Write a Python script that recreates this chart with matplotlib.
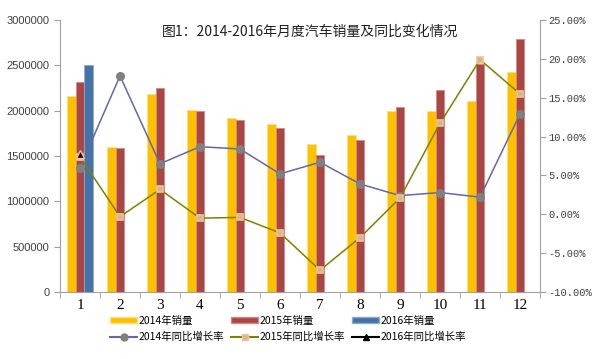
import numpy as np
import matplotlib.pyplot as plt
from matplotlib.ticker import FuncFormatter, FixedLocator
from matplotlib.lines import Line2D
from matplotlib.patches import Patch

plt.rcParams['font.family'] = ['Noto Sans CJK SC', 'DejaVu Sans']

months = ['1', '2', '3', '4', '5', '6', '7', '8', '9', '10', '11', '12']
sales_2014 = [2160000, 1600000, 2180000, 2010000, 1920000, 1850000,
              1630000, 1730000, 2000000, 2000000, 2110000, 2430000]
sales_2015 = [2320000, 1590000, 2250000, 2000000, 1900000, 1810000,
              1510000, 1680000, 2040000, 2230000, 2510000, 2790000]
sales_2016 = [2500000]
growth_2014 = [6.0, 17.8, 6.5, 8.7, 8.4, 5.2, 6.7, 3.9, 2.4, 2.8, 2.2, 12.9]
growth_2015 = [7.4, -0.3, 3.2, -0.5, -0.4, -2.4, -7.2, -3.0, 2.1, 11.7, 19.9, 15.5]
growth_2016 = [7.8]

fig = plt.figure(figsize=(5.93, 3.59), dpi=100)
ax = fig.add_axes([60 / 593, 1 - 292 / 359, 480 / 593, 272 / 359])
ax2 = ax.twinx()

x = np.arange(len(months))
w = 0.22
c14, c15, c16 = '#FFC000', '#AA4643', '#4572A7'
ax.bar(x - w, sales_2014, w, color=c14, edgecolor='#FFE080', linewidth=0.6)
ax.bar(x, sales_2015, w, color=c15, edgecolor='#D08A88', linewidth=0.6)
ax.bar(x[:1] + w, sales_2016, w, color=c16, edgecolor='#8FAACF', linewidth=0.6)

ax.set_xlim(-0.5, 11.5)
ax.set_ylim(0, 3000000)
ax.set_yticks(np.arange(0, 3000001, 500000))
ax.yaxis.set_major_formatter(FuncFormatter(lambda v, p: f'{int(v)}'))
ax.set_xticks(x)
ax.set_xticklabels(months, family='Liberation Serif', fontsize=11)
ax.xaxis.set_minor_locator(FixedLocator(np.arange(-0.5, 12, 1)))
ax.tick_params(axis='x', which='major', length=0, pad=5)
ax.tick_params(axis='x', which='minor', length=4, color='#A0A0A0', direction='out')
ax.tick_params(axis='y', length=4, color='#A0A0A0', labelsize=8, labelcolor='#404040')
for lab in ax.get_yticklabels():
    lab.set_family('Liberation Sans')

ax2.plot(x, growth_2014, color='#6666A8', linewidth=1.1, marker='o', markersize=5.5,
         markerfacecolor='#808080', markeredgecolor='#808080', zorder=3)
ax2.plot(x, growth_2015, color='#808000', linewidth=1.1, marker='s', markersize=4.5,
         markerfacecolor='#C4BD97', markeredgecolor='#FAC090', markeredgewidth=1.2, zorder=4)
ax2.plot(x[:1], growth_2016, color='black', linewidth=1.1, marker='^', markersize=5.5,
         markerfacecolor='black', markeredgecolor='#FAC090', zorder=5)
ax2.set_ylim(-10, 25)
ax2.set_yticks(np.arange(-10, 26, 5))
ax2.yaxis.set_major_formatter(FuncFormatter(lambda v, p: f'{v:.2f}%'))
ax2.tick_params(axis='y', length=4, color='#A0A0A0', labelsize=7.5, labelcolor='#404040',
                pad=2)
for lab in ax2.get_yticklabels():
    lab.set_family('Liberation Mono')

for a in (ax, ax2):
    a.spines['top'].set_visible(False)
    for s in ('left', 'right', 'bottom'):
        a.spines[s].set_color('#A0A0A0')
ax.spines['right'].set_visible(False)
ax2.spines['left'].set_visible(False)
ax2.spines['bottom'].set_visible(False)

fig.text(310 / 593, 1 - 32 / 359, '图1：2014-2016年月度汽车销量及同比变化情况',
         ha='center', va='center', fontsize=10, color='#202020')

handles = [
    Patch(facecolor=c14, edgecolor='#FFE080'),
    Line2D([], [], color='#6666A8', marker='o', markerfacecolor='#808080',
           markeredgecolor='#808080', markersize=5),
    Patch(facecolor=c15, edgecolor='#D08A88'),
    Line2D([], [], color='#808000', marker='s', markerfacecolor='#C4BD97',
           markeredgecolor='#FAC090', markersize=4.5),
    Patch(facecolor=c16, edgecolor='#8FAACF'),
    Line2D([], [], color='black', marker='^', markerfacecolor='black', markersize=4.5),
]
labels = ['2014年销量', '2014年同比增长率', '2015年销量', '2015年同比增长率',
          '2016年销量', '2016年同比增长率']
fig.legend(handles, labels, ncol=3, frameon=False, fontsize=7.5,
           loc='center', bbox_to_anchor=(288 / 593, 1 - 329 / 359),
           handlelength=2.6, handleheight=0.5, handletextpad=0.1,
           columnspacing=0.7, labelspacing=0.6, borderpad=0)

fig.savefig('out.png', dpi=100)
